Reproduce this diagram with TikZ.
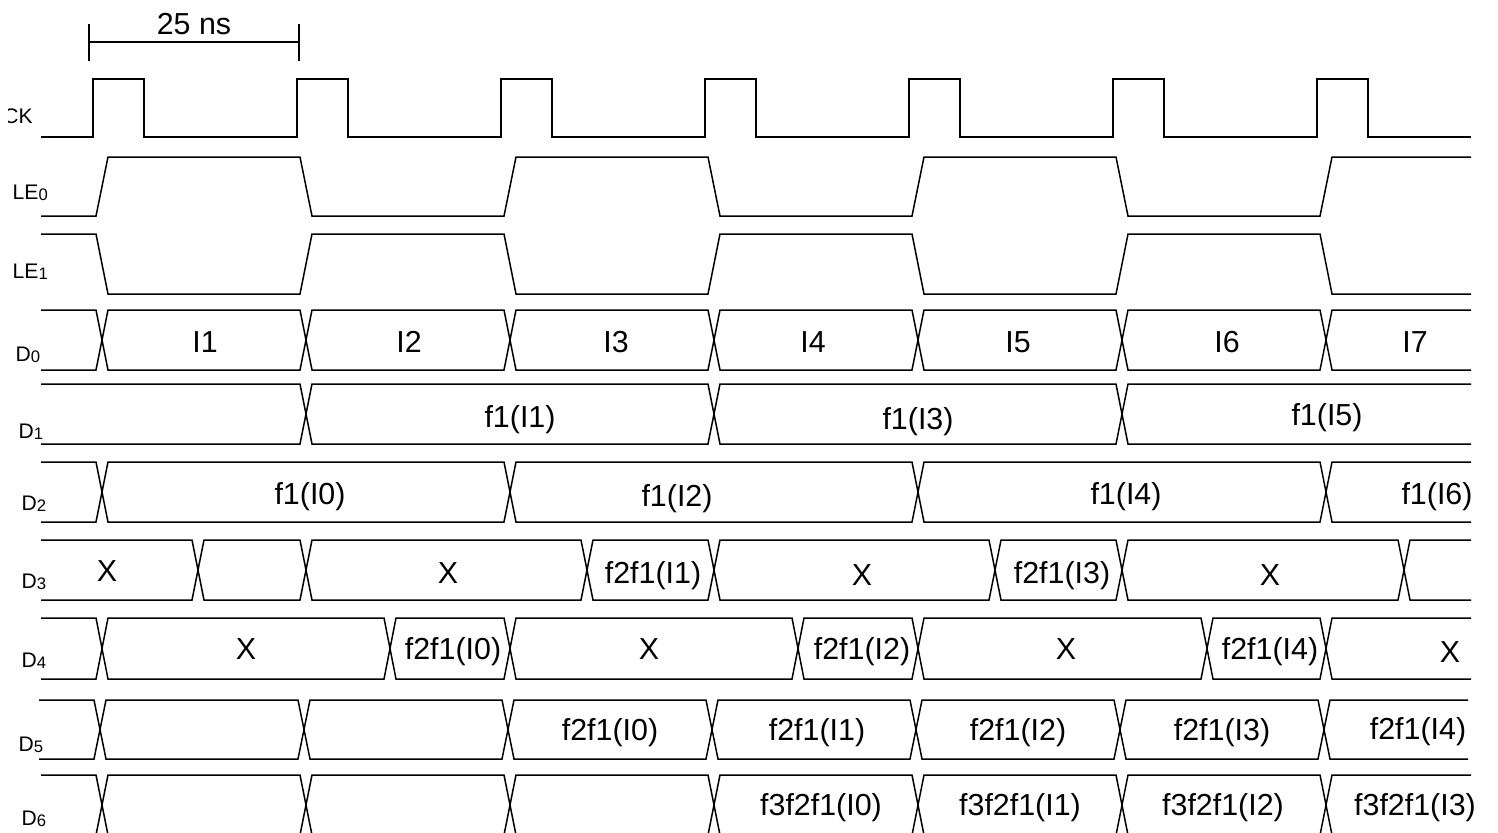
\documentclass[tikz,border=0pt]{standalone}
\usepackage{fontspec}
\setmainfont{Liberation Sans}
\usepackage{tikz}

\newcommand{\signame}[2]{#1\raisebox{-0.7pt}{\fontsize{9.5}{11}\selectfont #2}}

\begin{document}
\begin{tikzpicture}[x=0.02cm, y=-0.02cm, line width=0.85pt,
    siglbl/.style={anchor=base west, inner sep=0pt, font=\fontsize{12}{14}\selectfont},
    buslbl/.style={anchor=base, inner sep=0pt, font=\fontsize{17.3}{20}\selectfont}]
    \useasboundingbox (0,0) rectangle (1498,832);
    \clip (0,0) rectangle (1498,832);
    % 25 ns
    \draw (89,24) -- (89,61);
    \draw (299,24) -- (299,61);
    \draw (89,42) -- (299,42);
    \node [buslbl] (period) at (194,34) {25 ns};
    % CK
    \begin{scope}
      \clip (8,90) rectangle (40,130);
      \node [siglbl, anchor=base east] (ck) at (33.5,123) {\signame{CK}{}};
    \end{scope}
    \draw (41,137) -| (93,79) -| (144,137) -| (297,79) -| (348,137) -| (501,79) -| (552,137) -| (705,79) -| (756,137)
          -| (909,79) -| (960,137) -| (1113,79) -| (1164,137) -| (1317,79) -| (1368,137) -- (1471,137);
    % LE0
    \node [siglbl] (le0) at (12,199) {\signame{LE}{0}};
    \draw (41,216) -- (96,216) -- (108,157) -- (300,157) -- (312,216) -- (504,216) -- (516,157) -- (708,157) -- (720,216)
          -- (912,216) -- (924,157) -- (1116,157) -- (1128,216) -- (1320,216) -- (1332,157) -- (1471,157);
    % LE1
    \node [siglbl] (le1) at (12,278) {\signame{LE}{1}};
    \draw (41,234) -- (96,234) -- (108,294) -- (300,294) -- (312,234) -- (504,234) -- (516,294) -- (708,294) -- (720,234)
          -- (912,234) -- (924,294) -- (1116,294) -- (1128,234) -- (1320,234) -- (1332,294) -- (1471,294);
    % D0
    \node [siglbl] (d0) at (15,361) {\signame{D}{0}};
    \draw (41,310) -- (96,310) -- (108,370) -- (300,370) -- (312,310) -- (504,310) -- (516,370) -- (708,370) -- (720,310)
          -- (912,310) -- (924,370) -- (1116,370) -- (1128,310) -- (1320,310) -- (1332,370) -- (1471,370);
    \draw (41,370) -- (96,370) -- (108,310) -- (300,310) -- (312,370) -- (504,370) -- (516,310) -- (708,310) -- (720,370)
          -- (912,370) -- (924,310) -- (1116,310) -- (1128,370) -- (1320,370) -- (1332,310) -- (1471,310);
    \node [buslbl] (i1) at (205,352) {I1};
    \node [buslbl] (i2) at (409,352) {I2};
    \node [buslbl] (i3) at (616,352) {I3};
    \node [buslbl] (i4) at (813,352) {I4};
    \node [buslbl] (i5) at (1018,352) {I5};
    \node [buslbl] (i6) at (1227,352) {I6};
    \node [buslbl] (i7) at (1415,352) {I7};
    % D1
    \node [siglbl] (d1) at (18,438) {\signame{D}{1}};
    \draw (41,384) -- (300,384) -- (312,444) -- (708,444) -- (720,384) -- (1116,384) -- (1128,444) -- (1471,444);
    \draw (41,444) -- (300,444) -- (312,384) -- (708,384) -- (720,444) -- (1116,444) -- (1128,384) -- (1471,384);
    \node [buslbl] (f1i1) at (520,427) {f1(I1)};
    \node [buslbl] (f1i3) at (918,429) {f1(I3)};
    \node [buslbl] (f1i5) at (1327,425) {f1(I5)};
    % D2
    \node [siglbl] (d2) at (21,510) {\signame{D}{2}};
    \draw (41,462) -- (96,462) -- (108,522) -- (504,522) -- (516,462) -- (912,462) -- (924,522) -- (1320,522) -- (1332,462) -- (1471,462);
    \draw (41,522) -- (96,522) -- (108,462) -- (504,462) -- (516,522) -- (912,522) -- (924,462) -- (1320,462) -- (1332,522) -- (1471,522);
    \node [buslbl] (f1i0) at (310,504) {f1(I0)};
    \node [buslbl] (f1i2) at (677,506) {f1(I2)};
    \node [buslbl] (f1i4) at (1126,504) {f1(I4)};
    \node [buslbl] (f1i6) at (1437,504) {f1(I6)};
    % D3
    \node [siglbl] (d3) at (21,588) {\signame{D}{3}};
    \draw (41,540) -- (192,540) -- (204,600) -- (300,600) -- (312,540) -- (581,540) -- (593,600) -- (708,600) -- (720,540)
          -- (989,540) -- (1001,600) -- (1116,600) -- (1128,540) -- (1398,540) -- (1410,600) -- (1471,600);
    \draw (41,600) -- (192,600) -- (204,540) -- (300,540) -- (312,600) -- (581,600) -- (593,540) -- (708,540) -- (720,600)
          -- (989,600) -- (1001,540) -- (1116,540) -- (1128,600) -- (1398,600) -- (1410,540) -- (1471,540);
    \node [buslbl] (d3x0) at (107,581) {X};
    \node [buslbl] (d3x1) at (448,583) {X};
    \node [buslbl] (f2f1i1a) at (653,583) {f2f1(I1)};
    \node [buslbl] (d3x2) at (862,585) {X};
    \node [buslbl] (f2f1i3a) at (1062,583) {f2f1(I3)};
    \node [buslbl] (d3x3) at (1270,585) {X};
    % D4
    \node [siglbl] (d4) at (21,667) {\signame{D}{4}};
    \draw (41,618) -- (96,618) -- (108,679) -- (384,679) -- (396,618) -- (504,618) -- (516,679) -- (792,679) -- (804,618)
          -- (912,618) -- (924,679) -- (1201,679) -- (1213,618) -- (1320,618) -- (1332,679) -- (1471,679);
    \draw (41,679) -- (96,679) -- (108,618) -- (384,618) -- (396,679) -- (504,679) -- (516,618) -- (792,618) -- (804,679)
          -- (912,679) -- (924,618) -- (1201,618) -- (1213,679) -- (1320,679) -- (1332,618) -- (1471,618);
    \node [buslbl] (d4x0) at (246,659) {X};
    \node [buslbl] (f2f1i0a) at (453,659) {f2f1(I0)};
    \node [buslbl] (d4x1) at (649,659) {X};
    \node [buslbl] (f2f1i2a) at (862,659) {f2f1(I2)};
    \node [buslbl] (d4x2) at (1066,659) {X};
    \node [buslbl] (f2f1i4a) at (1270,659) {f2f1(I4)};
    \node [buslbl] (d4x3) at (1450,662) {X};
    % D5
    \node [siglbl] (d5) at (18,751) {\signame{D}{5}};
    \draw (39,700) -- (94,700) -- (106,759) -- (298,759) -- (310,700) -- (502,700) -- (514,759) -- (706,759) -- (718,700)
          -- (910,700) -- (922,759) -- (1114,759) -- (1126,700) -- (1318,700) -- (1330,759) -- (1468,759);
    \draw (39,759) -- (94,759) -- (106,700) -- (298,700) -- (310,759) -- (502,759) -- (514,700) -- (706,700) -- (718,759)
          -- (910,759) -- (922,700) -- (1114,700) -- (1126,759) -- (1318,759) -- (1330,700) -- (1468,700);
    \node [buslbl] (f2f1i0b) at (610,740) {f2f1(I0)};
    \node [buslbl] (f2f1i1b) at (817,740) {f2f1(I1)};
    \node [buslbl] (f2f1i2b) at (1018,740) {f2f1(I2)};
    \node [buslbl] (f2f1i3b) at (1222,740) {f2f1(I3)};
    \node [buslbl] (f2f1i4b) at (1418,739) {f2f1(I4)};
    % D6
    \node [siglbl] (d6) at (21,825) {\signame{D}{6}};
    \draw (41,775) -- (96,775) -- (108,835) -- (300,835) -- (312,775) -- (504,775) -- (516,835) -- (708,835) -- (720,775)
          -- (912,775) -- (924,835) -- (1116,835) -- (1128,775) -- (1320,775) -- (1332,835) -- (1471,835);
    \draw (41,835) -- (96,835) -- (108,775) -- (300,775) -- (312,835) -- (504,835) -- (516,775) -- (708,775) -- (720,835)
          -- (912,835) -- (924,775) -- (1116,775) -- (1128,835) -- (1320,835) -- (1332,775) -- (1471,775);
    \node [buslbl] (f3f2f1i0) at (821,815) {f3f2f1(I0)};
    \node [buslbl] (f3f2f1i1) at (1020,815) {f3f2f1(I1)};
    \node [buslbl] (f3f2f1i2) at (1223,815) {f3f2f1(I2)};
    \node [buslbl] (f3f2f1i3) at (1415,815) {f3f2f1(I3)};
  \end{tikzpicture}
\end{document}
